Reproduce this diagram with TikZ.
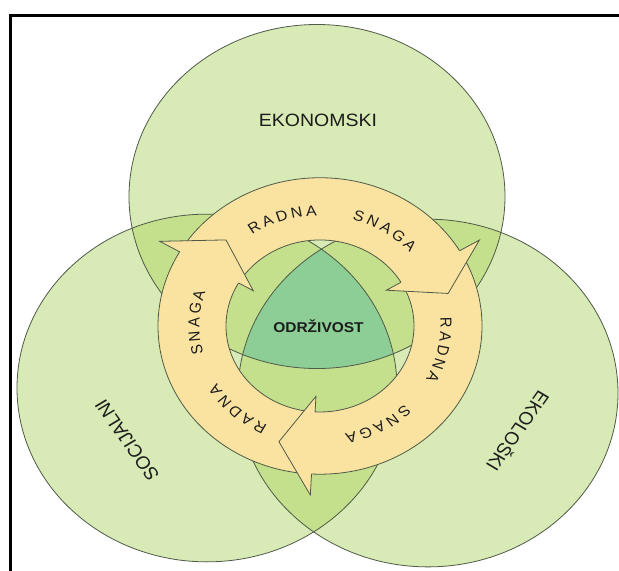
\documentclass[tikz,border=0pt]{standalone}
\usepackage{fontspec}
\setmainfont{Liberation Sans}
\usetikzlibrary{calc}
\definecolor{vennA}{RGB}{216,234,181}
\definecolor{vennB}{RGB}{196,224,140}
\definecolor{vennC}{RGB}{141,206,150}
\definecolor{ringY}{RGB}{250,227,160}
\definecolor{edgeC}{RGB}{80,90,72}
\definecolor{txtC}{RGB}{28,28,28}
\begin{document}
\begin{tikzpicture}[x=1pt,y=1pt,yscale=0.915,
  every node/.style={transform shape},
  edgeline/.style={draw=edgeC,line width=0.8pt},
  biglabel/.style={text=txtC,inner sep=0pt,font=\fontsize{19.5}{20}\selectfont},
  ringtxt/.style={text=txtC,inner sep=0pt,font=\fontsize{16}{16}\selectfont},
  centertxt/.style={text=txtC,inner sep=0pt,font=\fontsize{15.5}{16}\selectfont\bfseries}]
\useasboundingbox (0,0) rectangle (619,624.04);
\coordinate (T) at (317,409.3);
\coordinate (L) at (207,200);
\coordinate (R) at (428,194.5);
\coordinate (C) at (320,267.8);
% frame
\draw[line width=2.4pt] (10.5,0) -- (10.5,607.3) -- (619,607.3);
% venn circles
\fill[vennA] (T) circle[radius=188];
\fill[vennA] (L) circle[radius=190];
\fill[vennA] (R) circle[radius=190];
\begin{scope}
  \clip (T) circle[radius=188];
  \fill[vennB] (L) circle[radius=190];
  \fill[vennB] (R) circle[radius=190];
\end{scope}
\begin{scope}
  \clip (L) circle[radius=190];
  \fill[vennB] (R) circle[radius=190];
\end{scope}
\begin{scope}
  \clip (T) circle[radius=188];
  \clip (L) circle[radius=190];
  \fill[vennC] (R) circle[radius=190];
\end{scope}
\draw[edgeline] (T) circle[radius=188];
\draw[edgeline] (L) circle[radius=190];
\draw[edgeline] (R) circle[radius=190];
% ring
\fill[ringY,even odd rule] (C) circle[radius=162] (C) circle[radius=94];
\draw[edgeline] (C) circle[radius=162];
\draw[edgeline] (C) circle[radius=94];
% arrow heads
\foreach \t [evaluate=\t as \tt using \t-15] in {150,30.5,267}{
  \fill[ringY] ($(C)+(\t:185)$) -- ($(C)+(\tt:133)$) -- ($(C)+(\t:77)$) -- cycle;
  \draw[edgeline,line join=miter] ($(C)+(\t:162)$) -- ($(C)+(\t:185)$) -- ($(C)+(\tt:133)$) -- ($(C)+(\t:77)$) -- ($(C)+(\t:94)$);
}
% ring texts
\foreach \k in {0,1,2}{
  \foreach \ch [count=\i from 0] in {R,A,D,N,A}{
    \pgfmathsetmacro\ang{121.5-6.9*\i-120*\k}
    \node[ringtxt,rotate=\ang-90] (ra-\k-\i) at ($(C)+(\ang:126)$) {\ch};
  }
  \foreach \ch [count=\i from 0] in {S,N,A,G,A}{
    \pgfmathsetmacro\ang{72-6.9*\i-120*\k}
    \node[ringtxt,rotate=\ang-90] (sn-\k-\i) at ($(C)+(\ang:126)$) {\ch};
  }
}
% labels
\node[biglabel] (eko) at (318,492.9) {EKONOMSKI};
\node[biglabel,rotate=123] (soc) at (127,143.2) {SOCIJALNI};
\node[biglabel,rotate=237] (ekol) at (519,152.2) {EKOLOŠKI};
\node[centertxt] (odr) at (318.5,267) {ODRŽIVOST};
\end{tikzpicture}
\end{document}
